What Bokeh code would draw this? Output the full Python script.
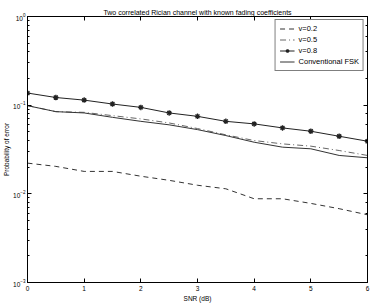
from bokeh.plotting import figure
from bokeh.models import LogAxis, LinearAxis, Range1d, Legend, LegendItem, FixedTicker, CustomJSTickFormatter
from bokeh.embed import file_html
from bokeh.resources import INLINE

snr = [0, 0.5, 1, 1.5, 2, 2.5, 3, 3.5, 4, 4.5, 5, 5.5, 6]
pe_v02 = [0.0222, 0.0204, 0.0179, 0.0179, 0.0158, 0.0142, 0.0125, 0.0114, 0.0088, 0.0088, 0.0078, 0.0068, 0.0058]
pe_v05 = [0.099, 0.0845, 0.083, 0.0762, 0.070, 0.063, 0.0545, 0.0463, 0.0399, 0.0366, 0.0345, 0.0308, 0.0271]
pe_v08 = [0.137, 0.122, 0.114, 0.103, 0.0944, 0.0817, 0.0748, 0.0657, 0.0615, 0.0554, 0.0508, 0.0446, 0.0392]
pe_fsk = [0.0987, 0.0845, 0.0817, 0.0729, 0.0657, 0.060, 0.053, 0.0454, 0.0382, 0.0336, 0.0322, 0.0271, 0.0255]
x_ticks = [0, 1, 2, 3, 4, 5, 6]
labels = ["v=0.2", "v=0.5", "v=0.8", "Conventional FSK"]

FONT = "Liberation Sans"

p = figure(width=374, height=304, y_axis_type="log", output_backend="svg",
           toolbar_location=None, x_range=Range1d(0, 6), y_range=Range1d(1e-3, 1),
           title="Two correlated Rician channel with known fading coefficients",
           min_border_left=27, min_border_right=7, min_border_top=16, min_border_bottom=21)
p.styles = {"position": "absolute", "left": "0px", "top": "0px"}
p.title.text_font = FONT
p.title.text_font_size = "7px"
p.title.text_font_style = "normal"
p.title.text_color = "black"
p.title.align = "center"
p.title.offset = 0
p.title.standoff = 2
p.outline_line_color = "black"
p.outline_line_width = 1
p.xgrid.visible = False
p.ygrid.visible = False
p.background_fill_color = "white"
p.border_fill_color = "white"

for ax in (p.xaxis[0], p.yaxis[0]):
    ax.major_tick_in = 4
    ax.major_tick_out = 0
    ax.minor_tick_in = 2
    ax.minor_tick_out = 0
    ax.major_label_text_font = FONT
    ax.major_label_text_font_size = "6.5px"
    ax.major_label_text_color = "black"
    ax.axis_label_text_font = FONT
    ax.axis_label_text_font_size = "6.5px"
    ax.axis_label_text_color = "black"
    ax.axis_label_text_font_style = "normal"
    ax.axis_line_color = "black"
p.xaxis[0].ticker = FixedTicker(ticks=x_ticks)
p.xaxis[0].axis_label = "SNR (dB)"
p.yaxis[0].axis_label = "Probability of error"
p.xaxis[0].major_label_standoff = 3
p.xaxis[0].axis_label_standoff = 1
p.yaxis[0].major_label_standoff = 2
p.yaxis[0].axis_label_standoff = 0

top = LinearAxis(ticker=FixedTicker(ticks=x_ticks), formatter=CustomJSTickFormatter(code="return ''"),
                 major_tick_in=4, major_tick_out=0, minor_tick_in=0, minor_tick_out=0,
                 major_label_standoff=0)
right = LogAxis(formatter=CustomJSTickFormatter(code="return ''"), major_tick_in=4, major_tick_out=0,
                minor_tick_in=2, minor_tick_out=0, major_label_standoff=0)
p.add_layout(top, "above")
p.add_layout(right, "right")

r1 = p.line(snr, pe_v02, line_color="#333333", line_width=1, line_dash="5 4")
r2 = p.line(snr, pe_v05, line_color="#666666", line_width=1, line_dash="6 3 1 3")
r3 = p.line(snr, pe_v08, line_color="#222222", line_width=1)
r3m = p.scatter(snr, pe_v08, marker="asterisk", size=5.5, line_color="#222222", line_width=1.3)
r4 = p.line(snr, pe_fsk, line_color="#333333", line_width=1)

legend = Legend(items=[LegendItem(label=labels[0], renderers=[r1]),
                       LegendItem(label=labels[1], renderers=[r2]),
                       LegendItem(label=labels[2], renderers=[r3, r3m]),
                       LegendItem(label=labels[3], renderers=[r4])],
                location="top_right", label_text_font=FONT, label_text_font_size="7.5px",
                label_text_color="black",
                label_height=9, glyph_height=9, glyph_width=15, spacing=2, padding=4,
                margin=3, border_line_color="black", border_line_width=1,
                label_standoff=4)
p.add_layout(legend)

open("out.html", "w").write(file_html(p, INLINE))
